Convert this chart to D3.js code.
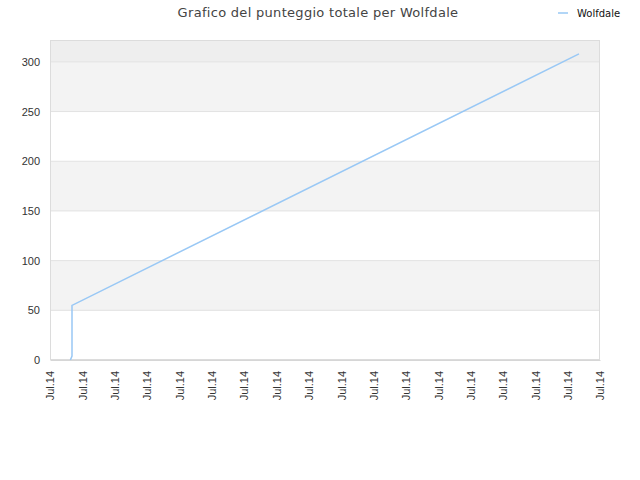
<!doctype html>
<html lang="it">
  <head>
    <meta charset="UTF-8" />
    <title>Grafico del punteggio totale per Wolfdale</title>
    <script src="https://d3js.org/d3.v7.min.js"></script>
    <style>
      body {
        margin: 0;
        background: #fff;
        font-family: 'DejaVu Sans', sans-serif;
      }
      .axis text {
        font-size: 11px;
        fill: #333;
      }
    </style>
  </head>
  <body>
    <div id="chart"></div>
    <script>
      // Data (x in tick steps, y = total score)
      const seriesName = 'Wolfdale';
      const timeSteps = [0.63, 0.68, 0.68, 0.68, 16.35];
      const scores = [0, 4, 17, 55, 308];
      const xTickLabels = d3.range(18).map(() => 'Jul.14');
      const yTicks = [0, 50, 100, 150, 200, 250, 300];
      const bandStarts = [50, 150, 250];

      const W = 640, H = 480;
      const margin = { top: 40, right: 40, bottom: 120, left: 50 };
      const width = W - margin.left - margin.right;
      const height = H - margin.top - margin.bottom;

      const svg = d3.select('#chart').append('svg')
        .attr('width', W).attr('height', H);

      // Title
      svg.append('text')
        .attr('x', 318).attr('y', 17)
        .attr('text-anchor', 'middle')
        .style('font-size', '13px')
        .style('letter-spacing', '0.3px')
        .attr('fill', '#444')
        .text('Grafico del punteggio totale per Wolfdale');

      // Legend
      const legend = svg.append('g').attr('transform', 'translate(558,13)');
      legend.append('line')
        .attr('x1', 0).attr('x2', 10)
        .attr('stroke', '#99c8f5').attr('stroke-width', 1.5);
      legend.append('text')
        .attr('x', 19).attr('y', 4)
        .style('font-size', '10px')
        .attr('fill', '#111')
        .text(seriesName);

      const g = svg.append('g')
        .attr('transform', `translate(${margin.left},${margin.top})`);

      const x = d3.scaleLinear().domain([0, xTickLabels.length - 1]).range([0, width]);
      const y = d3.scaleLinear().domain([0, 322]).range([height, 0]);

      // Background bands
      g.append('rect')
        .attr('x', 0).attr('y', 0)
        .attr('width', width).attr('height', y(300))
        .attr('fill', '#eeeeee');
      g.selectAll('.band')
        .data(bandStarts)
        .enter().append('rect')
        .attr('class', 'band')
        .attr('x', 0)
        .attr('y', (d) => y(d + 50))
        .attr('width', width)
        .attr('height', (d) => y(d) - y(d + 50))
        .attr('fill', '#f3f3f3');

      // Grid lines
      g.selectAll('.grid')
        .data(yTicks.slice(1))
        .enter().append('line')
        .attr('class', 'grid')
        .attr('x1', 0).attr('x2', width)
        .attr('y1', (d) => y(d)).attr('y2', (d) => y(d))
        .attr('stroke', '#e2e2e2');

      // Frame
      g.append('rect')
        .attr('x', 0.5).attr('y', 0.5)
        .attr('width', width - 1).attr('height', height - 1)
        .attr('fill', 'none')
        .attr('stroke', '#dcdcdc');

      // Y axis
      const yAxis = g.append('g')
        .attr('class', 'axis')
        .call(d3.axisLeft(y).tickValues(yTicks).tickSize(0).tickPadding(10));
      yAxis.select('.domain').remove();

      // X axis
      const xAxis = g.append('g')
        .attr('class', 'axis')
        .attr('transform', `translate(0,${height})`)
        .call(d3.axisBottom(x)
          .tickValues(d3.range(xTickLabels.length))
          .tickFormat((d, i) => xTickLabels[i])
          .tickSize(0));
      xAxis.select('.domain').attr('stroke', '#d6d6d6');
      xAxis.selectAll('text')
        .attr('transform', 'rotate(-90)')
        .attr('text-anchor', 'end')
        .attr('x', -11)
        .attr('y', 0)
        .attr('dy', '0.35em');

      // Line
      const pts = timeSteps.map((t, i) => [t, scores[i]]);
      g.append('path')
        .datum(pts)
        .attr('fill', 'none')
        .attr('stroke', '#99c8f5')
        .attr('stroke-width', 1.5)
        .attr('d', d3.line().x((d) => x(d[0])).y((d) => y(d[1])));
    </script>
  </body>
</html>
